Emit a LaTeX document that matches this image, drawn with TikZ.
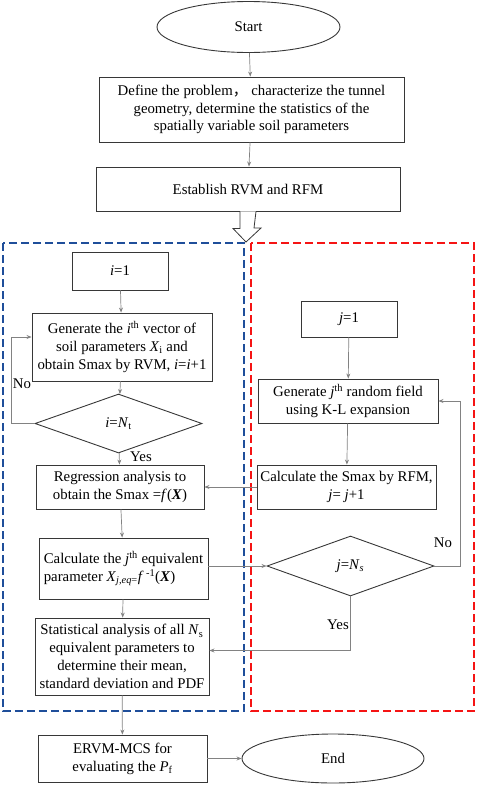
\documentclass[tikz,border=0pt]{standalone}
\usepackage{fontspec}
\setmainfont{Liberation Serif}
\newfontfamily\cjk{Noto Sans CJK SC}
\usetikzlibrary{shapes.geometric,arrows.meta}
\definecolor{frameblue}{RGB}{31,78,154}
\definecolor{framered}{RGB}{245,20,20}
\definecolor{boxline}{RGB}{55,55,55}
\definecolor{linkgray}{RGB}{130,130,130}
\begin{document}
\begin{tikzpicture}[x=1pt, y=-1pt, >={Stealth[length=5pt,width=4pt]},
    font=\fontsize{14.8}{17.8}\selectfont,
    block/.style={draw=boxline, line width=0.9pt, align=center, inner sep=2pt},
    decision/.style={draw=boxline, line width=0.9pt, diamond, inner sep=0pt},
    terminal/.style={draw=boxline, line width=0.9pt, ellipse, inner sep=0pt},
    line/.style={draw=linkgray, line width=0.7pt},
    frame/.style={line width=1.8pt, dash pattern=on 8pt off 4pt}]
    \useasboundingbox (0,0) rectangle (477,785);

    % main flow
    \node[terminal, minimum width=183pt, minimum height=51pt] (start) at (248.5,27) {Start};
    \node[block, minimum width=305pt, minimum height=65pt] (define) at (251.5,109.5)
        {Define the problem{\cjk ，} characterize the tunnel\\geometry, determine the statistics of the\\spatially variable soil parameters};
    \node[block, minimum width=304pt, minimum height=44pt] (estab) at (248,189) {Establish RVM and RFM};

    \draw[line, ->] (start) -- (define);
    \draw[line, ->] (define) -- (estab);

    % hollow arrow into the two frames
    \coordinate (split) at (246,242);
    \draw[boxline, line width=0.8pt, fill=white] ([xshift=-8pt]estab.south) -- ++(0,17) -- ++(-7,0)
        -- (split) -- ++(15,-14) -- ++(-7,0) -- ([xshift=8pt]estab.south);

    \draw[frame, frameblue] (3,243) rectangle (244,711);
    \draw[frame, framered] (251,243) rectangle (474,711);

    % RVM side
    \node[block, minimum width=96pt, minimum height=38pt] (ione) at (120,271) {\textit{i}=1};
    \node[block, minimum width=180pt, minimum height=68pt] (geni) at (122,347)
        {Generate the \textit{i}\textsuperscript{th} vector of\\soil parameters \textit{X}\textsubscript{i} and\\obtain Smax by RVM, \textit{i}=\textit{i}+1};
    \node[decision, minimum width=167pt, minimum height=59pt] (deci) at (118.5,423.5) {\textit{i}=\textit{N}\textsubscript{t}};
    \node[block, minimum width=168pt, minimum height=44pt] (regr) at (120,487)
        {Regression analysis to\\obtain the Smax =\textit{f}(\textbf{\textit{X}})};
    \node[block, minimum width=169pt, minimum height=61pt, align=left] (calcj) at (123.5,568.5)
        {Calculate the \textit{j}\textsuperscript{th} equivalent\\parameter \textit{X}\textsubscript{\textit{j,eq}=}\textit{f}\,\textsuperscript{-1}(\textbf{\textit{X}})};
    \node[block, minimum width=174pt, minimum height=77pt] (stats) at (122,656.5)
        {Statistical analysis of all \textit{N}\textsubscript{s}\\equivalent parameters to\\determine their mean,\\standard deviation and PDF};

    % RFM side
    \node[block, minimum width=96pt, minimum height=36pt] (jone) at (349,319) {\textit{j}=1};
    \node[block, minimum width=180pt, minimum height=44pt] (genj) at (348,401)
        {Generate \textit{j}\textsuperscript{th} random field\\using K-L expansion};
    \node[block, minimum width=179pt, minimum height=44pt] (calcs) at (346.5,487)
        {Calculate the Smax by RFM,\\\textit{j}= \textit{j}+1};
    \node[decision, minimum width=167pt, minimum height=60pt] (decj) at (350.5,566) {\textit{j}=\textit{N}\textsubscript{\textit{s}}};

    % end
    \node[block, minimum width=169pt, minimum height=47pt] (ervm) at (122.5,758.5)
        {ERVM-MCS for\\evaluating the \textit{P}\textsubscript{f}};
    \node[terminal, minimum width=182pt, minimum height=49pt] (finish) at (333,758.5) {End};

    % links
    \draw[line, ->] (ione) -- (geni);
    \draw[line, ->] (geni) -- (deci);
    \draw[line, ->] (deci.west) -- ++(-23,0) |- ([yshift=10pt]geni.west);
    \draw[line, ->] (deci) -- (regr);
    \draw[line, ->] (regr) -- (calcj);
    \draw[line, ->] (calcj) -- (stats);
    \draw[line, ->] (stats) -- (ervm);
    \draw[line, ->] (ervm) -- (finish);

    \draw[line, ->] (jone) -- (genj);
    \draw[line, ->] (genj) -- (calcs);
    \draw[line, ->] (calcs) -- (regr);
    \draw[line, ->] (calcj.east |- decj) -- (decj.west);
    \draw[line, ->] (decj.east) -- ++(26,0) |- (genj.east);
    \draw[line, ->] (decj.south) |- ([yshift=6pt]stats.east);

    % branch labels
    \node (noi) at (22,384) {No};
    \node (yesi) at (141,457) {Yes};
    \node (noj) at (443,543) {No};
    \node (yesj) at (338,625) {Yes};
\end{tikzpicture}
\end{document}
